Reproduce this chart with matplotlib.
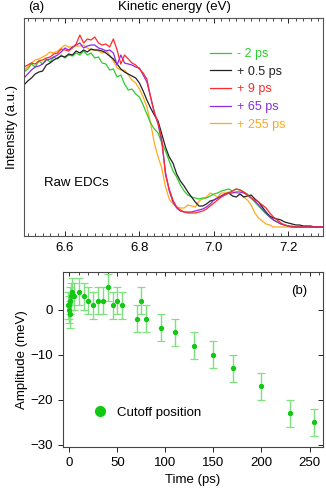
import numpy as np
import matplotlib
matplotlib.use("Agg")
import matplotlib.pyplot as plt
from matplotlib.lines import Line2D
from matplotlib.ticker import MultipleLocator, FormatStrFormatter

plt.rcParams['font.family'] = ['Liberation Sans', 'DejaVu Sans']
FS = 9.5
plt.rcParams['font.size'] = FS

# ---------------- data: panel (a) raw EDCs ----------------
energy = np.round(np.arange(6.49, 7.305, 0.01), 2)  # 82 points

edc_m2 = [155,158,163,160,166,163,168,165,170,168,
          172,169,172,171,174,172,176,172,174,169,
          170,164,163,157,158,150,152,143,137,138,
          133,130,122,113,104,98,94,84,76,66,
          56,50,42,36,32,30,29,28,29,29,
          31,33,34,36,37,38,36,38,37,35,
          33,29,25,21,17,13,10,7,5,3,
          2,1,1,0,0,0,0,0,0,0,
          0,0]
edc_p05 = [142,146,149,153,155,156,162,164,167,169,
           171,170,173,172,176,174,177,175,178,177,
           177,176,174,171,168,163,158,155,153,151,
           149,144,136,127,119,112,106,93,80,70,
           64,53,46,41,35,30,25,21,21,23,
           26,27,29,31,33,34,31,30,33,30,
           31,32,28,25,20,15,11,9,8,7,
           5,4,3,2,2,1,1,1,0,0,
           0,0]
edc_p9 = [160,162,164,163,166,167,169,170,173,174,
          178,177,176,179,183,192,184,188,187,190,
          184,182,183,180,188,177,163,172,168,164,
          162,158,154,148,130,115,104,88,52,38,
          27,20,17,15,14,14,14,15,16,18,
          21,24,27,30,32,34,36,38,37,35,
          32,29,27,25,22,19,14,10,7,4,
          2,1,0,0,0,0,0,0,0,0,
          0,0]
edc_p65 = [149,153,157,160,161,163,167,168,170,172,
           175,179,177,180,182,184,179,181,182,182,
           179,178,176,177,174,162,172,164,163,162,
           160,159,152,145,130,114,103,85,55,36,
           25,19,16,15,15,15,16,17,18,20,
           23,27,29,31,33,34,34,35,35,34,
           32,29,26,22,18,14,10,7,5,3,
           2,1,0,0,0,0,0,0,0,0,
           0,0]
edc_p255 = [157,160,164,167,168,170,172,175,174,176,
            179,182,180,180,181,181,182,179,177,177,
            176,174,177,172,166,159,157,157,152,147,
            144,138,130,120,104,84,70,59,40,28,
            23,20,19,19,22,21,20,26,28,30,
            34,32,30,34,34,35,35,34,33,30,
            27,22,14,9,6,3,2,0,0,0,
            0,0,0,0,0,0,0,0,0,0,
            0,0]

edc_labels = ['- 2 ps', '+ 0.5 ps', '+ 9 ps', '+ 65 ps', '+ 255 ps']
edc_colors = ['#2ecc2e', '#222222', '#ff2a2a', '#8a2be2', '#ffaa1e']
edc_series = [edc_m2, edc_p05, edc_p9, edc_p65, edc_p255]

# ---------------- data: panel (b) cutoff position ----------------
time_ps = [-1, -0.5, 0, 0.5, 1, 2, 3, 5, 10, 15, 20, 25, 30, 35, 40, 45, 50, 55,
           70, 75, 80, 95, 110, 130, 150, 170, 200, 230, 255]
amp_mev = [1, 0, 1, -1, 2, 3, 4, 3, 4, 3, 2, 1, 2, 2, 5, 1, 2, 1,
           -2, 2, -2, -4, -5, -8, -10, -13, -17, -23, -25]
amp_err = [3] * len(time_ps)

# ---------------- figure ----------------
fig = plt.figure(figsize=(3.26, 4.90), dpi=100)

ax1 = fig.add_axes([24/326, 1-236/490, 299/326, 218/490])
order = [4, 0, 1, 3, 2]
for i in order:
    ax1.plot(energy, edc_series[i], color=edc_colors[i], lw=0.9, label=edc_labels[i])
ax1.set_xlim(6.49, 7.293)
ax1.set_ylim(-9, 209)
ax1.xaxis.set_major_locator(MultipleLocator(0.2))
ax1.xaxis.set_minor_locator(MultipleLocator(0.02))
ax1.set_yticks([])
ax1.tick_params(axis='x', which='both', direction='in', top=True, bottom=True)
ax1.tick_params(axis='x', which='major', length=3.5, width=0.6, pad=4, labelsize=FS)
ax1.tick_params(axis='x', which='minor', length=2, width=0.5)
ax1.xaxis.set_major_formatter(FormatStrFormatter('%.1f'))
for s in ax1.spines.values():
    s.set_color('#555555')
    s.set_linewidth(0.8)
ax1.set_ylabel('Intensity (a.u.)', fontsize=FS, labelpad=4)
fig.text(174/326, 1-7/490, 'Kinetic energy (eV)', ha='center', va='center', fontsize=FS)
fig.text(28/326, 1-7/490, '(a)', ha='left', va='center', fontsize=FS)
ax1.text((44-24)/299, 1-(183-18)/218, 'Raw EDCs', transform=ax1.transAxes,
         ha='left', va='center', fontsize=FS)

handles, labels = ax1.get_legend_handles_labels()
hmap = dict(zip(labels, handles))
leg = ax1.legend([hmap[l] for l in edc_labels], edc_labels, loc='upper left',
                 bbox_to_anchor=(0.605, 0.885), frameon=False, fontsize=FS - 0.5,
                 handlelength=1.7, handletextpad=0.5, labelspacing=0.45,
                 borderaxespad=0)
for t, c in zip(leg.get_texts(), edc_colors):
    t.set_color(c)

# ---------------- panel (b) ----------------
ax2 = fig.add_axes([63/326, 1-447/490, 260/326, 175/490])
ax2.errorbar(time_ps, amp_mev, yerr=amp_err, fmt='o', color='#12c812', ms=2.8,
             ecolor='#7fe07f', elinewidth=1.0, capsize=2.8, capthick=0.9, zorder=3)
ax2.set_xlim(-6.5, 264)
ax2.set_ylim(-30.5, 8.4)
ax2.xaxis.set_major_locator(MultipleLocator(50))
ax2.xaxis.set_minor_locator(MultipleLocator(10))
ax2.yaxis.set_major_locator(MultipleLocator(10))
ax2.tick_params(axis='both', which='major', direction='out', length=3.5, width=0.6,
                labelsize=FS, top=False, right=False)
ax2.tick_params(axis='x', which='minor', bottom=False, top=True, direction='in',
                length=2.5, width=0.5)
sec_x = ax2.secondary_xaxis('top')
sec_x.xaxis.set_major_locator(MultipleLocator(50))
sec_x.tick_params(direction='in', length=3, width=0.6, labeltop=False)
sec_y = ax2.secondary_yaxis('right')
sec_y.yaxis.set_major_locator(MultipleLocator(10))
sec_y.tick_params(direction='in', length=3.5, width=0.6, labelright=False)
for s in ax2.spines.values():
    s.set_color('#444444')
    s.set_linewidth(0.8)
sec_x.spines['top'].set_visible(False)
sec_y.spines['right'].set_visible(False)
ax2.set_xlabel('Time (ps)', fontsize=FS, labelpad=4)
ax2.set_ylabel('Amplitude (meV)', fontsize=FS, labelpad=2)
ax2.text(0.94, 0.89, '(b)', transform=ax2.transAxes, ha='right', va='center', fontsize=FS)
h = Line2D([], [], marker='o', ls='none', color='#12c812', ms=7)
ax2.legend([h], ['Cutoff position'], loc='lower left', bbox_to_anchor=(0.07, 0.13),
           frameon=False, fontsize=FS, handletextpad=0.3, borderaxespad=0)

fig.savefig('out.png', dpi=100)
